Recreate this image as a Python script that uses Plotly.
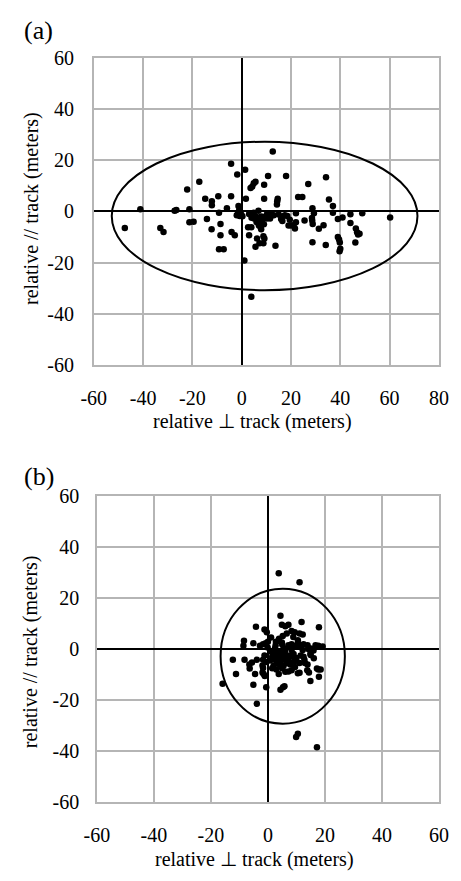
import numpy as np
import plotly.graph_objects as go

# ---------------- data ----------------
ticks_xa = [-60, -40, -20, 0, 20, 40, 60, 80]
ticks_xb = [-60, -40, -20, 0, 20, 40, 60]
ticks_y = [-60, -40, -20, 0, 20, 40, 60]
labels_xa = ["-60", "-40", "-20", "0", "20", "40", "60", "80"]
labels_xb = ["-60", "-40", "-20", "0", "20", "40", "60"]
labels_y = ["-60", "-40", "-20", "0", "20", "40", "60"]

a_x = [-47.4, -41.1, -33.0, -31.7, -27.2, -26.5, -22.1, -21.2, -21.2, -19.5,
       -17.2, -14.8, -14.1, -12.1, -12.1, -12.2, -9.5, -9.2, -8.6, -8.6,
       -9.2, -7.3, -4.3, -4.3, -4.1, -2.8, -6.0, -1.8, -1.3, -1.5,
       -0.8, -0.2, -2.0, 0.3, -1.0, 1.4, 1.7, 1.1, 3.9, 2.6,
       3.9, 3.0, 3.6, 4.3, 4.9, 5.6, 4.9, 5.6, 6.2, 6.8,
       6.2, 7.0, 7.8, 5.8, 6.5, 7.2, 7.7, 7.9, 8.3, 9.1,
       9.1, 8.8, 9.2, 8.8, 10.7, 12.6, 10.2, 11.0, 12.0, 10.2,
       13.0, 13.7, 14.4, 14.6, 14.3, 16.0, 16.4, 18.0, 17.5, 18.5,
       19.0, 20.1, 21.0, 21.6, 22.0, 22.0, 22.9, 24.6, 25.5, 27.0,
       28.5, 28.7, 28.6, 28.8, 28.7, 29.3, 31.3, 33.2, 34.2, 34.1,
       35.4, 37.0, 37.0, 39.0, 40.9, 39.0, 39.5, 39.8, 40.0, 39.7,
       44.1, 44.1, 46.3, 46.8, 47.8, 46.1, 47.2, 48.9, 60.2,
       5.0, 6.0, 8.0, 9.5, 11.5, 9.0, 7.0, 12.0, 3.0, 4.0, 15.0, 16.5, 19.5]
a_y = [-6.5, 0.8, -6.5, -8.1, 0.2, 0.5, 8.5, 0.8, -4.3, -4.1,
       11.6, 4.9, -3.0, 4.0, 2.4, -7.0, 5.9, -0.5, -4.9, -9.3,
       -14.8, -14.8, 18.6, 5.9, -8.1, -9.3, 1.2, 14.4, 2.1, -1.0,
       -1.8, -1.2, -1.5, -1.9, 0.5, 16.3, 4.9, -19.2, -33.4, -6.2,
       -6.2, -9.3, 9.1, 9.7, 11.0, 11.6, -0.5, -13.8, -10.6, 0.2,
       -2.5, -3.0, -3.5, -2.0, -3.5, -12.5, -6.2, -7.0, -4.5, 10.4,
       4.9, -9.7, -10.6, -12.5, 13.8, 23.4, -2.8, -1.8, -1.6, -1.2,
       -1.5, -13.4, 4.0, 4.9, 2.7, -3.0, -2.0, 13.8, -1.5, -1.8,
       -5.5, -5.5, -5.4, -6.7, -0.7, -4.3, 5.6, 5.6, -3.6, 10.7,
       -2.6, 1.2, -3.6, -4.9, -12.1, -0.7, -6.8, -5.4, 13.3, -13.1,
       4.6, 2.1, -0.5, -3.0, -2.4, -10.0, -11.0, -12.2, -14.6, -15.6,
       -1.1, -4.5, -6.7, -8.2, -8.7, -12.2, -9.0, -0.7, -2.4,
       -2.8, -4.2, -2.0, -2.5, -2.8, -5.0, -5.5, -0.8, -1.0, -2.5, -1.2, -3.8, -3.3]

b_x = [3.8, 11.1, 4.4, 11.8, 17.9, -4.2, -1.2, -0.4, 4.9, 6.1,
       7.2, 5.2, 6.6, 8.3, 9.4, 11.1, 12.2, -8.4, -8.6, 1.1,
       -5.1, -2.8, -1.7, -0.8, -0.1, 3.8, 4.9, 2.7, 8.3, 9.9,
       10.5, 12.5, 17.7, 19.2, 14.2, 16.0, 14.9, -12.3, -8.2, -6.5,
       -6.4, -5.6, -3.9, -1.2, -0.6, -1.9, -11.2, -4.5, -1.9, -1.5,
       -15.9, -5.1, -0.6, -3.9, 4.4, 5.3, 5.8, 10.5, 9.9, 17.2,
       3.8, 6.1, 8.3, 10.5, 13.8, 14.4, 14.9, 17.7, 18.5, 17.9,
       8.9, 10.5, 0.0, 2.8, 3.9, 5.0, 5.5, 7.2, 8.3, 9.4,
       11.1, 12.2, 13.9, 15.0, 16.7, -1.7, -1.7, -1.1, 7.2, 11.1,
       17.2, 7.8, 9.4, 11.1, 12.8, 13.9, 15.0, 16.1,
       1.0, 2.0, 3.0, 4.0, 5.0, 6.0, 3.5, 4.5, 5.5, 2.5,
       6.5, 7.0, 3.0, 4.0, 5.5, 6.5, 1.5, 2.0, 0.8, 7.5,
       8.5, 9.0, 10.0, 8.0, 4.5, 6.0, 2.5, 1.5, 9.5, 3.0,
       5.0, 11.5, 12.5, 13.0]
b_y = [29.6, 26.1, 13.0, 10.6, 8.5, 8.7, 7.6, 6.6, 9.5, 8.9,
       9.5, 5.1, 6.1, 7.0, 6.6, 6.1, 5.7, 3.2, 1.3, 4.5,
       2.3, 1.3, 1.9, 2.3, 0.6, 3.2, 2.5, 1.5, 1.9, 1.3,
       2.3, 1.9, 1.3, 1.0, 0.0, -0.6, -1.9, -4.2, -4.2, -6.1,
       -7.6, -5.3, -4.2, -2.5, -5.1, -6.4, -9.8, -9.8, -9.2, -9.8,
       -13.6, -14.0, -15.0, -21.4, -15.9, -15.0, -14.6, -33.1, -34.4, -38.4,
       -9.8, -8.9, -8.3, -9.5, -8.3, -9.2, -12.5, -8.0, -8.0, -10.8,
       4.7, 3.4, 2.8, 2.8, 4.0, 1.8, 0.2, 1.5, -0.4, 0.9,
       1.5, -0.4, 1.5, 0.2, 1.5, -4.2, -7.4, -10.6, -8.8, -9.3,
       -7.6, -6.1, -4.8, -5.5, -4.2, -6.1, -2.3, -3.6,
       -1.0, -2.0, -1.5, -2.5, -3.0, -2.0, -3.5, -4.5, -4.0, -4.0,
       -3.5, -4.5, -5.5, -6.0, -6.5, -5.5, -3.0, -6.5, -4.5, -2.5,
       -3.0, -2.0, -3.5, -5.5, -1.0, -0.5, 0.3, -7.5, -7.0, -8.0,
       -7.5, -2.5, -3.0, -5.5]

# confidence ellipses: centre and semi-axes (meters)
ell_a = dict(cx=9.3, cy=-1.8, rx=62.0, ry=29.0)
ell_b = dict(cx=5.2, cy=-2.8, rx=21.8, ry=26.4)

# ---------------- figure ----------------
W, H = 461, 881
FONT = "Liberation Serif, Times New Roman, serif"
GRID = "#b5b5b5"

fig = go.Figure()
fig.add_trace(go.Scatter(x=a_x, y=a_y, mode="markers", xaxis="x", yaxis="y",
                         marker=dict(color="black", size=6.5), showlegend=False))
fig.add_trace(go.Scatter(x=b_x, y=b_y, mode="markers", xaxis="x2", yaxis="y2",
                         marker=dict(color="black", size=6.5), showlegend=False))

for e, xr, yr in [(ell_a, "x", "y"), (ell_b, "x2", "y2")]:
    fig.add_shape(type="circle", xref=xr, yref=yr,
                  x0=e["cx"] - e["rx"], x1=e["cx"] + e["rx"],
                  y0=e["cy"] - e["ry"], y1=e["cy"] + e["ry"],
                  line=dict(color="black", width=2))

def axis(rng, tickvals, ticktext, domain, anchor, standoff):
    return dict(range=rng, tickvals=tickvals, ticktext=ticktext, domain=domain, anchor=anchor,
                showgrid=True, gridcolor=GRID, gridwidth=1.5,
                showline=True, mirror=True, linecolor=GRID, linewidth=1.5,
                zeroline=True, zerolinecolor="black", zerolinewidth=2,
                ticks="", ticklabelstandoff=standoff,
                tickfont=dict(family=FONT, size=20, color="black"),
                fixedrange=True)

fig.update_layout(
    width=W, height=H, autosize=False,
    margin=dict(l=0, r=0, t=0, b=0),
    paper_bgcolor="white", plot_bgcolor="white",
    xaxis=axis([-60, 80], ticks_xa, labels_xa, [85 / W, 448.3 / W], "y", 14),
    yaxis=axis([-60, 60], ticks_y, labels_y, [(H - 363) / H, (H - 48) / H], "x", 14),
    xaxis2=axis([-60, 60], ticks_xb, labels_xb, [88.3 / W, 448.3 / W], "y2", 14),
    yaxis2=axis([-60, 60], ticks_y, labels_y, [(H - 811.7) / H, (H - 497) / H], "x2", 12),
)

def ann(text, x, y, size, angle=0):
    fig.add_annotation(text=text, x=x / W, y=(H - y) / H, xref="paper", yref="paper",
                       showarrow=False, textangle=angle, xanchor="center", yanchor="middle",
                       font=dict(family=FONT, size=size, color="black"))

ann("(a)", 27, 20, 26)
ann("(b)", 27, 477, 26)
ann("relative // track (meters)", 20, 203, 20, -90)
ann("relative // track (meters)", 18.5, 657, 20, -90)
ann("relative \u22a5 track (meters)", 252, 421, 20)
ann("relative \u22a5 track (meters)", 254, 870, 20)

fig.write_html("out.html")
